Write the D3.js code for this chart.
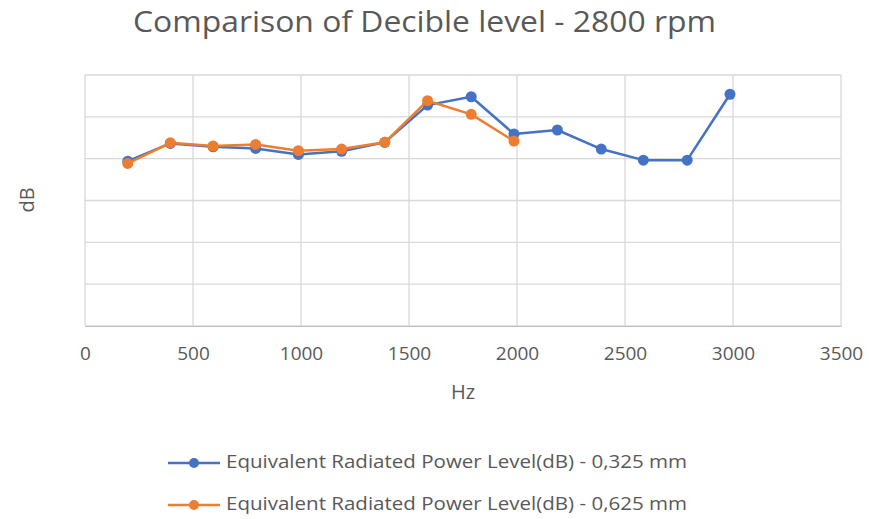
<!DOCTYPE html>
<html><head><meta charset="utf-8">
<script src="https://cdn.jsdelivr.net/npm/d3@7"></script>
<style>body{margin:0;background:#fff;} text{font-family:"Open Sans","Noto Sans",sans-serif;}</style>
</head><body><svg id="c" width="869" height="519"></svg>
<script>
const title = "Comparison of Decible level - 2800 rpm";
const freqBlue = [198,395,593,790,988,1188,1388,1586,1788,1986,2187,2390,2585,2788,2986];
const dbBlue   = [78.8,87.3,85.7,84.9,82.0,83.5,87.8,105.6,109.6,91.8,93.7,84.6,79.3,79.3,110.8];
const freqOrange = [198,395,593,790,988,1188,1388,1586,1788,1986];
const dbOrange   = [77.7,87.6,86.0,86.8,83.8,84.6,87.8,107.7,101.2,88.4];
const xTicks = [0,500,1000,1500,2000,2500,3000,3500];
const yTicks = [0,20,40,60,80,100,120];
const seriesNames = ["Equivalent Radiated Power Level(dB) - 0,325 mm","Equivalent Radiated Power Level(dB) - 0,625 mm"];
const colors = ["#4472C4","#ED7D31"];

const svg = d3.select("#c");
const L=85,R=841,T=75,B=326;
const x = d3.scaleLinear().domain([0,3500]).range([L,R]);
const y = d3.scaleLinear().domain([0,120]).range([B,T]);

svg.append("g").selectAll("line.h").data(yTicks).join("line")
  .attr("x1",L).attr("x2",R).attr("y1",d=>y(d)).attr("y2",d=>y(d))
  .attr("stroke","#d9d9d9").attr("stroke-width",1.3);
svg.append("g").selectAll("line.v").data(xTicks).join("line")
  .attr("y1",T).attr("y2",B).attr("x1",d=>x(d)).attr("x2",d=>x(d))
  .attr("stroke","#d9d9d9").attr("stroke-width",1.3);

const xa = svg.append("g").attr("transform",`translate(0,${B})`)
  .call(d3.axisBottom(x).tickValues(xTicks).tickSize(0).tickPadding(21).tickFormat(d3.format("d")));
xa.select(".domain").attr("stroke","#bfbfbf");
xa.selectAll("text").attr("fill","#595959").style("font-size","19px").style("font-family","'Open Sans',sans-serif");

svg.append("text").attr("x",424.5).attr("y",32).attr("text-anchor","middle")
  .attr("fill","#595959").style("font-size","29px").attr("textLength",583).attr("lengthAdjust","spacingAndGlyphs").text(title);
svg.append("text").attr("x",463).attr("y",394).attr("text-anchor","middle").attr("dominant-baseline","middle")
  .attr("fill","#595959").style("font-size","20px").text("Hz");
svg.append("text").attr("transform","translate(29,200) rotate(-90)").attr("text-anchor","middle").attr("dominant-baseline","middle")
  .attr("fill","#595959").style("font-size","20px").text("dB");

const series = [
  {f:freqBlue,v:dbBlue,c:colors[0]},
  {f:freqOrange,v:dbOrange,c:colors[1]}
];
const line = d3.line().x(d=>x(d[0])).y(d=>y(d[1]));
series.forEach(s=>{
  const pts = s.f.map((f,i)=>[f,s.v[i]]);
  svg.append("path").datum(pts).attr("d",line).attr("fill","none").attr("stroke",s.c).attr("stroke-width",2.5).attr("stroke-linejoin","round");
  svg.append("g").selectAll("circle").data(pts).join("circle")
    .attr("cx",d=>x(d[0])).attr("cy",d=>y(d[1])).attr("r",5.5).attr("fill",s.c);
});

const lg = svg.append("g");
seriesNames.forEach((n,i)=>{
  const yy = 463 + i*42;
  lg.append("line").attr("x1",168).attr("x2",220).attr("y1",yy).attr("y2",yy).attr("stroke",colors[i]).attr("stroke-width",2.5);
  lg.append("circle").attr("cx",194).attr("cy",yy).attr("r",5).attr("fill",colors[i]);
  lg.append("text").attr("x",226).attr("y",yy).attr("dominant-baseline","middle").attr("fill","#595959").style("font-size","19px")
    .attr("textLength",461).attr("lengthAdjust","spacingAndGlyphs").text(n);
});
</script></body></html>
